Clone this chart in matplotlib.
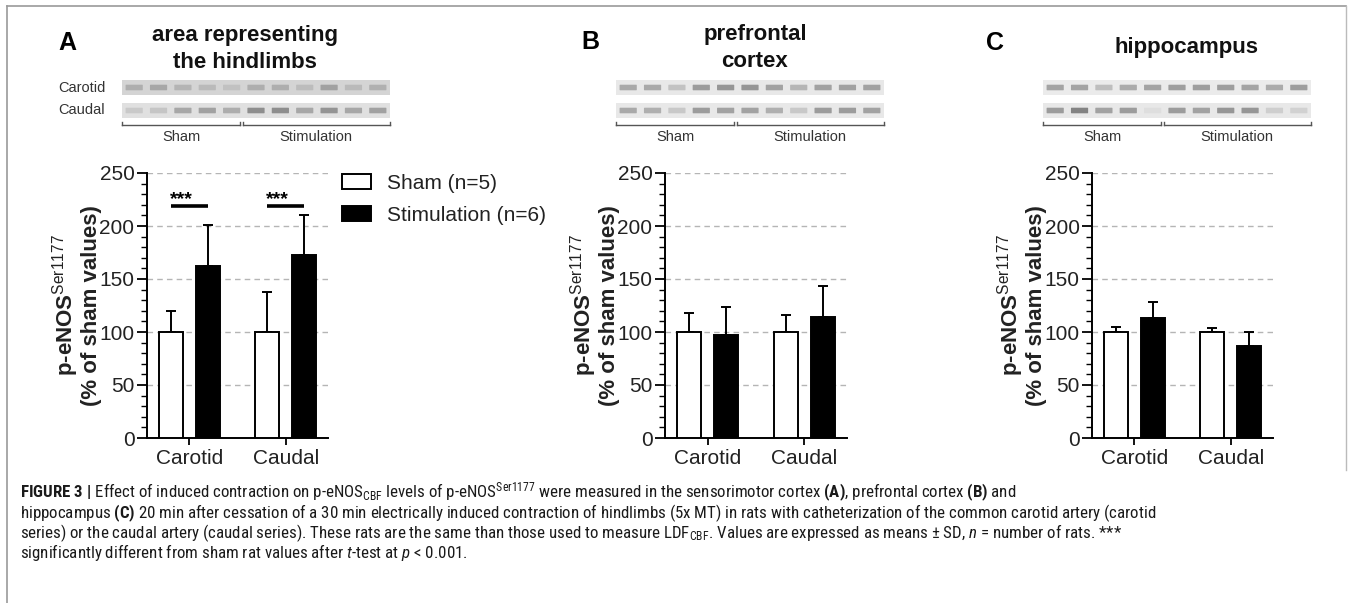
import matplotlib
matplotlib.use('Agg')
import matplotlib.pyplot as plt
from matplotlib import font_manager
from matplotlib.patches import Rectangle, FancyBboxPatch
from matplotlib.lines import Line2D
from matplotlib.ticker import MultipleLocator
import numpy as np

W, H, DPI = 1349, 603, 100

# ---------------- data ----------------
categories = ['Carotid', 'Caudal']
group_labels = ['Sham (n=5)', 'Stimulation (n=6)']

sham_mean_A = [100, 100]
sham_sd_A = [20, 37.5]
stim_mean_A = [162, 173]
stim_sd_A = [39, 37]

sham_mean_B = [100, 100]
sham_sd_B = [18, 16]
stim_mean_B = [97, 114.5]
stim_sd_B = [26.5, 29]

sham_mean_C = [100, 100]
sham_sd_C = [5, 4]
stim_mean_C = [113, 87]
stim_sd_C = [15.5, 13]

sig_A_level = 219
sig_A_text = ['***', '***']

y_ticks = [0, 50, 100, 150, 200, 250]

panel_letters = ['A', 'B', 'C']
panel_titles = ['area representing\nthe hindlimbs', 'prefrontal\ncortex', 'hippocampus']
blot_row_labels_A = ['Carotid', 'Caudal']
blot_group_labels = ['Sham', 'Stimulation']

# band darkness per lane (5 sham + 6 stimulation), read by eye
blot_A_top = [0.30, 0.35, 0.25, 0.20, 0.15, 0.30, 0.30, 0.18, 0.40, 0.20, 0.28]
blot_A_bot = [0.18, 0.22, 0.45, 0.50, 0.40, 0.65, 0.65, 0.45, 0.60, 0.45, 0.50]
blot_B_top = [0.50, 0.50, 0.30, 0.60, 0.65, 0.65, 0.55, 0.40, 0.55, 0.55, 0.55]
blot_B_bot = [0.50, 0.45, 0.25, 0.60, 0.55, 0.55, 0.45, 0.25, 0.60, 0.60, 0.55]
blot_C_top = [0.55, 0.55, 0.35, 0.50, 0.55, 0.60, 0.60, 0.60, 0.55, 0.50, 0.60]
blot_C_bot = [0.60, 0.80, 0.55, 0.60, 0.08, 0.60, 0.55, 0.65, 0.65, 0.20, 0.18]

caption_lines = [
    r"$\mathbf{FIGURE\ 3\ |}$ Effect of induced contraction on p-eNOS$_{\mathrm{CBF}}$ levels of p-eNOS$^{\mathrm{Ser1177}}$ were measured in the sensorimotor cortex $\mathbf{(A)}$, prefrontal cortex $\mathbf{(B)}$ and",
    r"hippocampus $\mathbf{(C)}$ 20 min after cessation of a 30 min electrically induced contraction of hindlimbs (5x MT) in rats with catheterization of the common carotid artery (carotid",
    r"series) or the caudal artery (caudal series). These rats are the same than those used to measure LDF$_{\mathrm{CBF}}$. Values are expressed as means ± SD, $\mathit{n}$ = number of rats. ***",
    r"significantly different from sham rat values after $\mathit{t}$-test at $\mathit{p}$ < 0.001.",
]

# ---------------- fonts ----------------
names = {f.name for f in font_manager.fontManager.ttflist}
MAIN = 'Liberation Sans' if 'Liberation Sans' in names else 'DejaVu Sans'
CAP = MAIN
for cand in ['Liberation Sans Narrow', 'Nimbus Sans Narrow', 'Roboto Condensed',
             'Archivo Narrow', 'PT Sans Narrow', 'Barlow Semi Condensed']:
    if cand in names:
        CAP = cand
        break
plt.rcParams['font.family'] = [MAIN, 'DejaVu Sans']
plt.rcParams['mathtext.fontset'] = 'custom'
plt.rcParams['mathtext.rm'] = CAP
plt.rcParams['mathtext.bf'] = CAP + ':bold'
plt.rcParams['mathtext.it'] = CAP + ':italic'
plt.rcParams['mathtext.sf'] = MAIN

TXT = '#222222'

fig = plt.figure(figsize=(W / DPI, H / DPI), dpi=DPI)
fig.patch.set_facecolor('white')

# overlay in pixel coordinates for frame, blots, labels
ov = fig.add_axes([0, 0, 1, 1], zorder=0)
ov.set_xlim(0, W)
ov.set_ylim(H, 0)
ov.axis('off')

def px_ax(l, r, t, b):
    return [l / W, 1 - b / H, (r - l) / W, (b - t) / H]

# frame
ov.add_line(Line2D([7, 1346], [6, 6], color='#9a9a9a', lw=1.2))
ov.add_line(Line2D([7, 7], [6, H], color='#9a9a9a', lw=1.2))
ov.add_line(Line2D([1346, 1346], [6, 470], color='#bbbbbb', lw=1.0))

panels = [
    dict(l=147, r=328, sham=sham_mean_A, shsd=sham_sd_A, stim=stim_mean_A, stsd=stim_sd_A,
         letter=(67, 43), title=(245, 49), bx=122, tops=(blot_A_top, blot_A_bot),
         bg=(0.83, 0.88)),
    dict(l=665, r=847, sham=sham_mean_B, shsd=sham_sd_B, stim=stim_mean_B, stsd=stim_sd_B,
         letter=(590, 42), title=(755, 48), bx=616, tops=(blot_B_top, blot_B_bot),
         bg=(0.91, 0.91)),
    dict(l=1092, r=1273, sham=sham_mean_C, shsd=sham_sd_C, stim=stim_mean_C, stsd=stim_sd_C,
         letter=(995, 43), title=(1187, 48), bx=1043, tops=(blot_C_top, blot_C_bot),
         bg=(0.92, 0.91)),
]

x = np.arange(len(categories))
bw = 0.25
off = 0.19

for k, p in enumerate(panels):
    wpx = p['r'] - p['l']
    ax = fig.add_axes(px_ax(p['l'], p['r'], 173, 438), zorder=2)
    ax.set_facecolor('none')
    ax.bar(x - off, p['sham'], width=bw, color='white', edgecolor='black', lw=1.4, zorder=3,
           label=group_labels[0])
    ax.bar(x + off, p['stim'], width=bw, color='black', edgecolor='black', lw=1.4, zorder=3,
           label=group_labels[1])
    ax.errorbar(x - off, p['sham'], yerr=[np.zeros(2), p['shsd']], fmt='none', ecolor='black',
                elinewidth=1.4, capsize=3.5, capthick=1.4, zorder=2)
    ax.errorbar(x + off, p['stim'], yerr=[np.zeros(2), p['stsd']], fmt='none', ecolor='black',
                elinewidth=1.4, capsize=3.5, capthick=1.4, zorder=2)
    ax.set_xlim(-0.44, 1.44)
    ax.set_ylim(0, 250)
    ax.set_yticks(y_ticks)
    ax.yaxis.set_minor_locator(MultipleLocator(10))
    ax.set_xticks(x)
    ax.set_xticklabels(categories)
    for s in ['top', 'right']:
        ax.spines[s].set_visible(False)
    for s in ['left', 'bottom']:
        ax.spines[s].set_linewidth(1.4)
    ax.tick_params(axis='y', which='major', length=7, width=1.3, labelsize=15, pad=2, colors='black',
                   labelcolor=TXT)
    ax.tick_params(axis='y', which='minor', length=4, width=1.0)
    ax.tick_params(axis='x', length=5, width=1.3, labelsize=15, pad=3, labelcolor=TXT)
    ax.yaxis.grid(True, which='major', ls=(0, (4, 3)), color='#b5b5b5', lw=1.0)
    ax.set_axisbelow(True)
    ax.set_ylabel("p-eNOS$^{\\mathsf{Ser1177}}$\n(% of sham values)", fontsize=16,
                  fontweight='bold', linespacing=1.0, color=TXT)
    ax.yaxis.label.set_va('center')
    ax.yaxis.set_label_coords(-71 / wpx, 0.5)

    if k == 0:
        for i in range(2):
            ax.plot([x[i] - off, x[i] + off], [sig_A_level, sig_A_level], color='black', lw=2.6,
                    solid_capstyle='butt', zorder=4)
            ax.text(x[i] - off - 1.5 / 97, sig_A_level - 2.5, sig_A_text[i], ha='left', va='bottom',
                    fontsize=14, fontweight='bold', color='black')
        ax.legend(loc='upper left', bbox_to_anchor=(342 / W, 1 - 174 / H),
                  bbox_transform=fig.transFigure, frameon=False, fontsize=15,
                  handlelength=1.4, handleheight=0.72, handletextpad=0.75, labelspacing=0.62,
                  borderpad=0, borderaxespad=0, labelcolor=TXT)

    # titles & letters
    ov.text(p['letter'][0], p['letter'][1], panel_letters[k], fontsize=18, fontweight='bold',
            ha='center', va='center', color='black')
    ov.text(p['title'][0], p['title'][1], panel_titles[k], fontsize=16, fontweight='bold',
            ha='center', va='center', linespacing=1.32, color='#111111')

    # blot strips
    bx = p['bx']
    lane = 268 / 11
    for j, (yt, yb) in enumerate([(80, 95), (103, 118)]):
        bgv = p['bg'][j]
        ov.add_patch(Rectangle((bx, yt), 268, yb - yt, facecolor=str(bgv), edgecolor='none'))
        vals = p['tops'][j]
        for i, v in enumerate(vals):
            cx = bx + (i + 0.5) * lane
            g = max(0.0, bgv - 0.55 * v)
            ov.add_patch(FancyBboxPatch((cx - 8, (yt + yb) / 2 - 2.2), 16, 4.4,
                                        boxstyle='round,pad=0.6', facecolor=str(g),
                                        edgecolor='none', alpha=0.9))
    split = bx + 5 * lane - 2
    bc = '#555555'
    ov.add_line(Line2D([bx, split - 1.5], [125, 125], color=bc, lw=1.0))
    ov.add_line(Line2D([split + 1.5, bx + 268], [125, 125], color=bc, lw=1.0))
    for xx in [bx, split - 1.5, split + 1.5, bx + 268]:
        ov.add_line(Line2D([xx, xx], [125, 121.5], color=bc, lw=1.0))
    ov.text((bx + split) / 2, 137, blot_group_labels[0], fontsize=10.5, ha='center', va='center',
            color='#333333')
    ov.text((split + bx + 268) / 2, 137, blot_group_labels[1], fontsize=10.5, ha='center',
            va='center', color='#333333')
    if k == 0:
        ov.text(58, 88, blot_row_labels_A[0], fontsize=10.5, ha='left', va='center', color='#333333')
        ov.text(58, 110, blot_row_labels_A[1], fontsize=10.5, ha='left', va='center', color='#333333')

# caption (one text per line, width fitted to the reference)
cap_fs = 12.0
cap_texts = []
for i, line in enumerate(caption_lines):
    t = ov.text(20, 498 + 20 * i, line, fontsize=cap_fs, ha='left', va='baseline',
                family=[CAP, 'DejaVu Sans'], color='#1a1a1a')
    cap_texts.append(t)
fig.canvas.draw()
r = fig.canvas.get_renderer()
wd = cap_texts[1].get_window_extent(r).width
for t in cap_texts:
    t.set_fontsize(min(cap_fs * 1130 / wd, 12.7))

fig.savefig('out.png', dpi=DPI, facecolor='white')
